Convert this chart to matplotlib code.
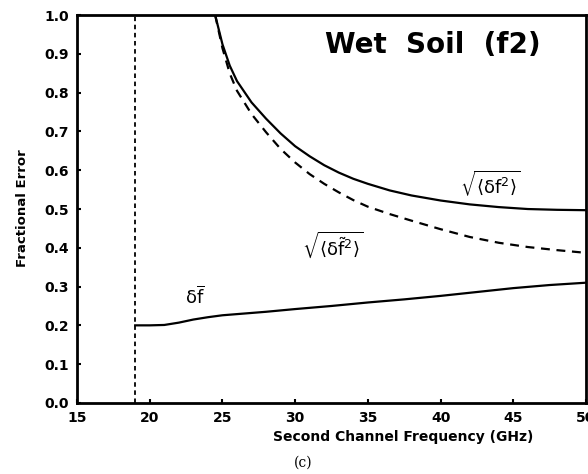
import numpy as np
import matplotlib.pyplot as plt

plt.rcParams['mathtext.default'] = 'regular'

# curves
x_rms = [24.5, 25.0, 25.5, 26, 27, 28, 29, 30, 31, 32, 33, 34, 35, 36.5, 38, 40,
         42, 44, 46, 48, 50]
y_rms = [1.0, 0.925, 0.87, 0.83, 0.775, 0.733, 0.695, 0.662, 0.636, 0.613, 0.594,
         0.578, 0.565, 0.548, 0.535, 0.522, 0.512, 0.505, 0.500, 0.498, 0.497]

x_rms2 = [24.5, 25.0, 25.5, 26, 27, 28, 29, 30, 31, 32, 33, 34, 35, 36.5, 38, 40,
          42, 44, 46, 48, 50]
y_rms2 = [1.0, 0.915, 0.85, 0.805, 0.745, 0.698, 0.655, 0.62, 0.59, 0.565, 0.543,
          0.523, 0.506, 0.487, 0.47, 0.448, 0.428, 0.413, 0.402, 0.394, 0.387]

x_bias = [19, 20, 21, 22, 23, 24, 25, 26, 27, 28, 30, 32.5, 35, 37.5, 40, 42.5,
          45, 47.5, 50]
y_bias = [0.20, 0.20, 0.201, 0.207, 0.215, 0.221, 0.226, 0.229, 0.232, 0.235,
          0.242, 0.25, 0.259, 0.267, 0.276, 0.286, 0.296, 0.304, 0.31]

f1 = 19.0
xticks = [15, 20, 25, 30, 35, 40, 45, 50]
yticks = [0.0, 0.1, 0.2, 0.3, 0.4, 0.5, 0.6, 0.7, 0.8, 0.9, 1.0]

fig = plt.figure(figsize=(5.88, 4.74), dpi=100)
ax = fig.add_axes([0.131, 0.150, 0.8656, 0.818])

ax.plot(x_rms, y_rms, color='black', lw=1.6)
ax.plot(x_rms2, y_rms2, color='black', lw=1.6, ls=(0, (4, 3)))
ax.plot(x_bias, y_bias, color='black', lw=1.6)
ax.plot([f1, f1], [0, 1], color='black', lw=1.3, ls=(0, (2.5, 2)))

ax.set_xlim(15, 50)
ax.set_ylim(0, 1)
ax.set_xticks(xticks)
ax.set_yticks(yticks)
ax.set_xticklabels([str(t) for t in xticks], fontweight='bold', fontsize=10)
ax.set_yticklabels(['%.1f' % t for t in yticks], fontweight='bold', fontsize=10)
ax.tick_params(direction='in', length=3, width=1.5, pad=6)
for s in ax.spines.values():
    s.set_linewidth(2)

ax.text(39.5, 0.923, 'Wet  Soil  (f2)', fontsize=20, fontweight='heavy',
        ha='center', va='center')
ax.text(43.4, 0.567, r'$\sqrt{\langle\delta f^2\rangle}$', fontsize=13,
        ha='center', va='center')
ax.text(32.6, 0.407, r'$\sqrt{\langle\delta \tilde{f}^2\rangle}$', fontsize=13,
        ha='center', va='center')
ax.text(23.1, 0.273, r'$\delta\overline{f}$', fontsize=13,
        ha='center', va='center')

fig.text(0.038, 0.56, 'Fractional Error', rotation=90, fontsize=9.5,
         fontweight='bold', ha='center', va='center')
fig.text(0.685, 0.078, 'Second Channel Frequency (GHz)', fontsize=10,
         fontweight='bold', ha='center', va='center')
fig.text(0.515, 0.024, '(c)', fontsize=10, family='DejaVu Serif',
         ha='center', va='center')

fig.savefig('out.png', dpi=100)
